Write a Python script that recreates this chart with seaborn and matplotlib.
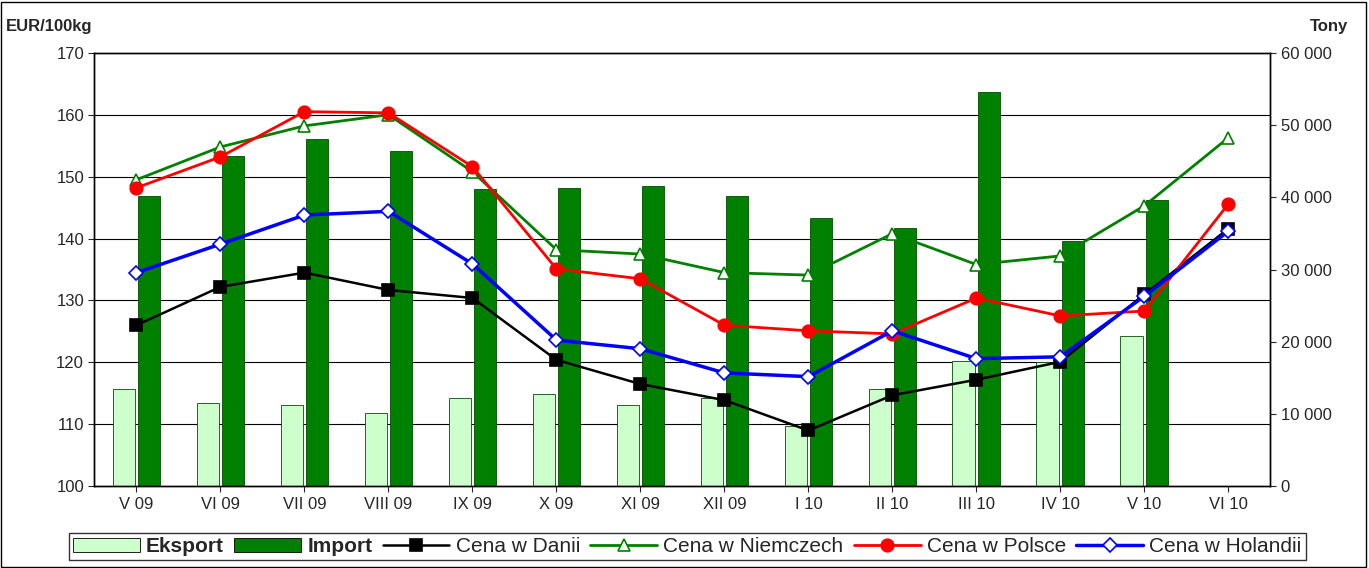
import numpy as np
import pandas as pd
import matplotlib
matplotlib.use("Agg")
import matplotlib.pyplot as plt
from matplotlib.patches import Patch
import seaborn as sns

months = ["V 09", "VI 09", "VII 09", "VIII 09", "IX 09", "X 09", "XI 09", "XII 09",
          "I 10", "II 10", "III 10", "IV 10", "V 10", "VI 10"]
eksport = [13400, 11500, 11200, 10200, 12200, 12700, 11200, 12200, 8400, 13400,
           17300, 17200, 20800, np.nan]
imports = [40200, 45700, 48100, 46400, 41100, 41300, 41600, 40200, 37100, 35800,
           54600, 33900, 39600, np.nan]
cena_dania = [126.0, 132.2, 134.5, 131.7, 130.4, 120.4, 116.5, 113.9, 109.0, 114.7,
              117.2, 120.1, 131.0, 141.6]
cena_niemcy = [149.5, 154.8, 158.2, 160.0, 150.8, 138.2, 137.5, 134.5, 134.1, 140.8,
               135.8, 137.2, 145.3, 156.3]
cena_polska = [148.2, 153.2, 160.5, 160.3, 151.6, 135.1, 133.5, 126.0, 125.1, 124.6,
               130.4, 127.5, 128.3, 145.6]
cena_holandia = [134.5, 139.1, 143.8, 144.4, 135.9, 123.6, 122.2, 118.3, 117.7, 125.1,
                 120.6, 120.9, 130.7, 141.2]

sns.set_style("white")
plt.rcParams["font.family"] = ["Liberation Sans", "DejaVu Sans"]

fig = plt.figure(figsize=(13.69, 5.68), dpi=100)
ax = fig.add_axes([0.069, 0.144, 0.859, 0.763])
ax2 = ax.twinx()

# bars on the right axis (Tony)
bars = pd.DataFrame({
    "month": months * 2,
    "series": ["Eksport"] * len(months) + ["Import"] * len(months),
    "value": eksport + imports,
})
for v in range(110, 170, 10):
    ax2.axhline((v - 100) / 70 * 60000, color="black", lw=0.8, zorder=0)
sns.barplot(data=bars, x="month", y="value", hue="series", order=months,
            palette={"Eksport": "#ccffcc", "Import": "#008000"}, saturation=1,
            edgecolor="#004d00", linewidth=0.6, width=0.6, gap=0.1,
            ax=ax2, legend=False, zorder=2)
ax2.set_ylim(0, 60000)
ax2.set_yticks(range(0, 60001, 10000))
ax2.set_yticklabels(["0"] + [f"{v // 1000} 000" for v in range(10000, 60001, 10000)])
ax2.set_ylabel("")
ax2.set_xlabel("")

# price lines on the left axis
x = np.arange(len(months))
lines = [
    ("Cena w Danii", cena_dania, "black", "s", "black", 1.8),
    ("Cena w Niemczech", cena_niemcy, "#008000", "^", "white", 2),
    ("Cena w Polsce", cena_polska, "red", "o", "red", 2),
    ("Cena w Holandii", cena_holandia, "blue", "D", "white", 2.5),
]
for name, vals, col, mk, fc, lw in lines:
    sns.lineplot(x=x, y=vals, color=col, marker=mk, markersize=9 if mk != "D" else 7,
                 markerfacecolor=fc, markeredgecolor=col, markeredgewidth=1.2,
                 lw=lw, ax=ax, label=name, legend=False)
ax.set_zorder(ax2.get_zorder() + 1)
ax.patch.set_visible(False)
ax.set_ylim(100, 170)
ax.set_yticks(range(100, 171, 10))
ax.set_xlim(-0.5, len(months) - 0.5)
ax.set_xticks(x)
ax.set_xticklabels(months)
ax2.set_xlim(-0.5, len(months) - 0.5)

for a in (ax, ax2):
    a.tick_params(labelsize=12, length=4, direction="out")
    for s in a.spines.values():
        s.set_color("black")
        s.set_linewidth(1)
ax.tick_params(axis="both", which="both", left=True, bottom=True)
ax2.tick_params(axis="y", right=True)

fig.text(0.004, 0.945, "EUR/100kg", fontsize=12, fontweight="bold")
fig.text(0.985, 0.945, "Tony", fontsize=12, fontweight="bold", ha="right")

# legend
handles = [Patch(facecolor="#ccffcc", edgecolor="black", lw=0.6),
           Patch(facecolor="#008000", edgecolor="black", lw=0.6)]
labels = ["Eksport", "Import"]
h, l = ax.get_legend_handles_labels()
leg = fig.legend(handles + h, labels + l, loc="lower center", ncol=6,
                 bbox_to_anchor=(0.502, -0.005), frameon=True, fancybox=False,
                 edgecolor="black", fontsize=15, handlelength=3.2,
                 columnspacing=0.5, handletextpad=0.3, borderpad=0.2)
for t in leg.get_texts()[:2]:
    t.set_fontweight("bold")

fig.patches.append(plt.Rectangle((0.001, 0.002), 0.997, 0.995, transform=fig.transFigure,
                                 fill=False, edgecolor="black", lw=1))
fig.savefig("out.png", dpi=100)
